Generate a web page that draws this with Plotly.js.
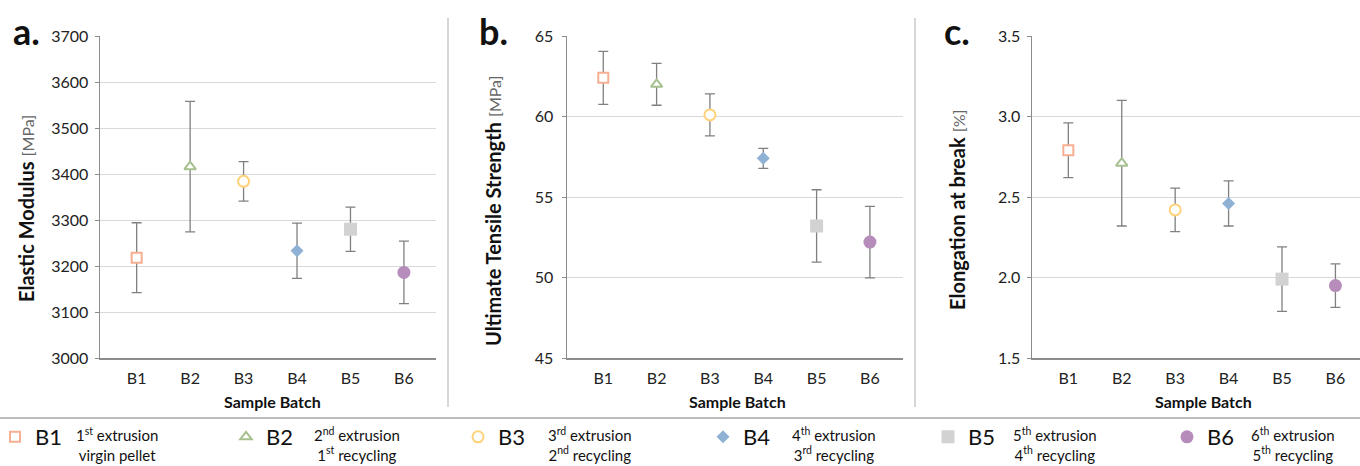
<!DOCTYPE html>
<html>
<head>
<meta charset="utf-8">
<script src="https://cdn.plot.ly/plotly-3.0.1.min.js"></script>
<style>html,body{margin:0;padding:0;background:#fff;}#chart{width:1360px;height:466px;}</style>
</head>
<body>
<div id="chart"></div>
<script>
// ---- data ----
const batches = ["B1", "B2", "B3", "B4", "B5", "B6"];
const modulusMean = [3218, 3416, 3384, 3233, 3280, 3186];
const modulusErr  = [76, 142, 43, 60, 48, 68];
const utsMean = [62.4, 62.0, 60.1, 57.4, 53.2, 52.2];
const utsErr  = [1.65, 1.3, 1.3, 0.62, 2.25, 2.22];
const elongMean = [2.79, 2.71, 2.42, 2.46, 1.99, 1.95];
const elongErr  = [0.17, 0.39, 0.135, 0.14, 0.2, 0.135];
const descLine1 = ["1<sup>st</sup> extrusion", "2<sup>nd</sup> extrusion", "3<sup>rd</sup> extrusion",
                   "4<sup>th</sup> extrusion", "5<sup>th</sup> extrusion", "6<sup>th</sup> extrusion"];
const descLine2 = ["virgin pellet", "1<sup>st</sup> recycling", "2<sup>nd</sup> recycling",
                   "3<sup>rd</sup> recycling", "4<sup>th</sup> recycling", "5<sup>th</sup> recycling"];

// ---- styles ----
const W = 1360, H = 466;
const FONT = "Lato, 'Open Sans', sans-serif";
const markerStyle = [
  {symbol: "square", size: 10, color: "#ffffff", line: {color: "#F7AF93", width: 2}},
  {symbol: "triangle-up", size: 10, color: "#ffffff", line: {color: "#A6C18F", width: 2}},
  {symbol: "circle", size: 11, color: "#ffffff", line: {color: "#FFD27A", width: 2}},
  {symbol: "diamond", size: 10, color: "#8FB2D4", line: {width: 0}},
  {symbol: "square", size: 13, color: "#D2D2D2", line: {width: 0}},
  {symbol: "circle", size: 13, color: "#B68CBB", line: {width: 0}}
];
const px = v => v / W;
const py = v => 1 - v / H;

const panels = [
  {mean: modulusMean, err: modulusErr, xa: "x", ya: "y"},
  {mean: utsMean, err: utsErr, xa: "x2", ya: "y2"},
  {mean: elongMean, err: elongErr, xa: "x3", ya: "y3"}
];
const legendIds = ["legend", "legend2", "legend3", "legend4", "legend5", "legend6"];

const traces = [];
panels.forEach((p, pi) => {
  batches.forEach((b, i) => {
    traces.push({
      type: "scatter", mode: "markers",
      x: [b], y: [p.mean[i]],
      xaxis: p.xa, yaxis: p.ya,
      name: b, legendgroup: b, legend: legendIds[i],
      showlegend: pi === 0,
      marker: markerStyle[i],
      error_y: {type: "data", array: [p.err[i]], visible: true, color: "#808080", thickness: 1.3, width: 5},
      hoverinfo: "x+y"
    });
  });
});

const gridC = "#D9D9D9", axisC = "#8C8C8C";
function xAxis(domain, range) {
  return {domain: domain, range: range, type: "category", showgrid: false, zeroline: false,
    showline: true, linecolor: axisC, linewidth: 1.5, ticks: "", ticklabelstandoff: 5,
    tickfont: {family: FONT, size: 16, color: "#222"}, fixedrange: true};
}
function yAxis(domain, range, dtick, fmt, anchor, standoff) {
  return {domain: domain, range: range, dtick: dtick, tick0: range[0], tickformat: fmt, anchor: anchor,
    showgrid: true, gridcolor: gridC, gridwidth: 1, zeroline: false,
    showline: true, linecolor: axisC, linewidth: 1.5, ticks: "outside", ticklen: 4, tickcolor: axisC,
    ticklabelstandoff: standoff,
    tickfont: {family: FONT, size: 16, color: "#222"}, fixedrange: true};
}
const yDom = [py(358), py(36)];

const annotations = [];
// panel letters
[["a.", 26], ["b.", 493], ["c.", 957]].forEach(([t, x]) => {
  annotations.push({text: "<b>" + t + "</b>", xref: "paper", yref: "paper", x: px(x), y: py(31),
    xanchor: "center", yanchor: "middle", showarrow: false, font: {family: FONT, size: 36, color: "#111"}});
});
// y titles
const yTitles = [
  ["<b>Elastic Modulus</b> <span style='font-size:16px;color:#666'>[MPa]</span>", 26, 209],
  ["<b>Ultimate Tensile Strength</b> <span style='font-size:16px;color:#666'>[MPa]</span>", 493, 211],
  ["<b>Elongation at break</b> <span style='font-size:16px;color:#666'>[%]</span>", 957, 210]
];
yTitles.forEach(([t, x, y]) => {
  annotations.push({text: t, xref: "paper", yref: "paper", x: px(x), y: py(y), textangle: -90,
    xanchor: "center", yanchor: "middle", showarrow: false, font: {family: FONT, size: 20, color: "#111"}});
});
// x titles
[272, 737, 1203].forEach(x => {
  annotations.push({text: "<b>Sample Batch</b>", xref: "paper", yref: "paper", x: px(x), y: py(401),
    xanchor: "center", yanchor: "middle", showarrow: false, font: {family: FONT, size: 16, color: "#111"}});
});
// legend descriptions
const descX = [117, 357, 590, 834, 1055, 1293];
batches.forEach((b, i) => {
  annotations.push({text: descLine1[i] + "<br>" + descLine2[i], xref: "paper", yref: "paper",
    x: px(descX[i]), y: py(444), xanchor: "center", yanchor: "middle", align: "center", showarrow: false,
    font: {family: FONT, size: 15, color: "#111"}});
});

const shapes = [
  {type: "line", xref: "paper", yref: "paper", x0: px(448), x1: px(448), y0: py(18), y1: py(407), line: {color: "#C8C8C8", width: 1.5}},
  {type: "line", xref: "paper", yref: "paper", x0: px(915), x1: px(915), y0: py(18), y1: py(407), line: {color: "#C8C8C8", width: 1.5}},
  {type: "line", xref: "paper", yref: "paper", x0: 0, x1: 1, y0: py(418), y1: py(418), line: {color: "#BDBDBD", width: 2}}
];

const legendMarkerX = [15, 246, 478, 723, 948, 1187];
const layout = {
  width: W, height: H,
  margin: {l: 0, r: 0, t: 0, b: 0, autoexpand: false},
  paper_bgcolor: "#fff", plot_bgcolor: "#fff",
  font: {family: FONT, color: "#111"},
  xaxis: xAxis([px(100), px(436)], [-0.686, 5.6]),
  yaxis: yAxis(yDom, [3000, 3700], 100, "d", "x", 3),
  xaxis2: Object.assign(xAxis([px(567), px(903)], [-0.68, 5.62]), {anchor: "y2"}),
  yaxis2: yAxis(yDom, [45, 65], 5, "d", "x2", 5),
  xaxis3: Object.assign(xAxis([px(1032), 1], [-0.68, 5.46]), {anchor: "y3"}),
  yaxis3: yAxis(yDom, [1.5, 3.5], 0.5, ".1f", "x3", 3),
  annotations: annotations,
  shapes: shapes
};
layout.xaxis.anchor = "y";
legendIds.forEach((id, i) => {
  layout[id] = {x: px(legendMarkerX[i] - 20), y: py(437), xanchor: "left", yanchor: "middle",
    orientation: "h", bgcolor: "rgba(0,0,0,0)", borderwidth: 0,
    font: {family: FONT, size: 22, color: "#111"}, itemclick: false, itemdoubleclick: false};
});

Plotly.newPlot("chart", traces, layout, {displayModeBar: false, staticPlot: true});
</script>
</body>
</html>
